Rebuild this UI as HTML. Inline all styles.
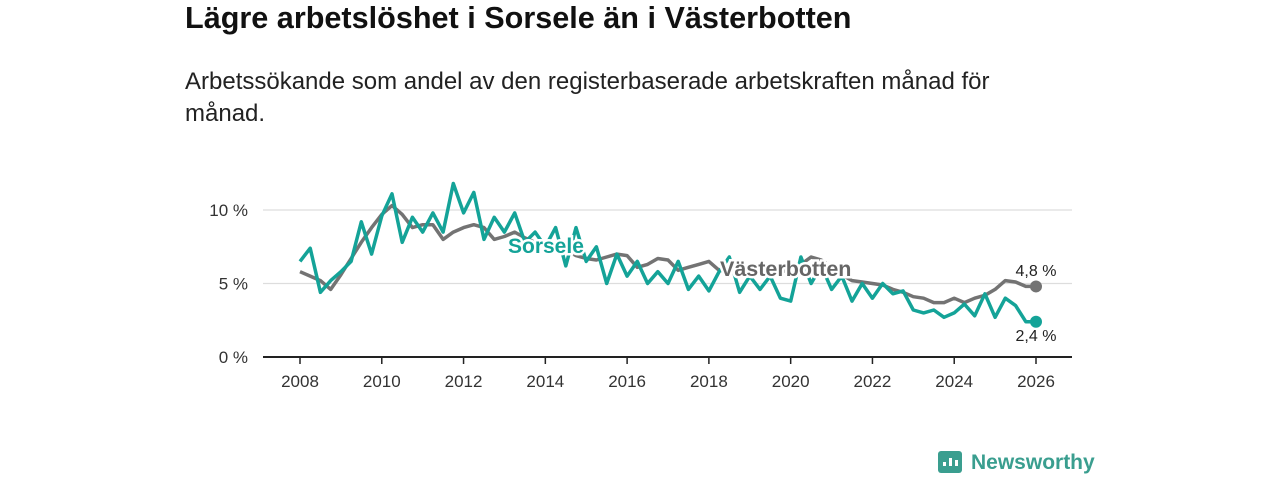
<!DOCTYPE html>
<html><head><meta charset="utf-8"><style>
body{margin:0;width:1280px;height:480px;background:#fff;font-family:"Liberation Sans","DejaVu Sans",sans-serif;overflow:hidden;position:relative}
h1{position:absolute;left:185px;top:1px;margin:0;font-size:30.6px;font-weight:bold;color:#111}
.sub{position:absolute;left:185px;top:66px;font-size:24px;line-height:32px;color:#222;width:900px}
svg{position:absolute;left:0;top:0}
</style></head><body>
<h1>Lägre arbetslöshet i Sorsele än i Västerbotten</h1>
<div class="sub">Arbetssökande som andel av den registerbaserade arbetskraften månad för<br>månad.</div>
<svg id="c" width="1280" height="480"></svg>
<script>
const startYear=2008, step=0.25;
const vasterbotten=[5.8,5.5,5.2,4.6,5.6,6.7,7.8,8.8,9.7,10.3,9.7,8.8,9.0,9.0,8.0,8.5,8.8,9.0,8.8,8.0,8.2,8.5,8.1,7.8,7.6,7.4,7.3,6.9,6.7,6.6,6.8,7.0,6.9,6.1,6.3,6.7,6.6,5.9,6.1,6.3,6.5,5.9,5.8,6.1,6.2,5.6,5.6,5.8,5.9,6.3,6.8,6.6,6.1,5.6,5.2,5.1,5.0,4.9,4.6,4.4,4.1,4.0,3.7,3.7,4.0,3.7,4.0,4.2,4.6,5.2,5.1,4.8,4.8];
const sorsele=[6.5,7.4,4.4,5.2,5.8,6.5,9.2,7.0,9.6,11.1,7.8,9.5,8.5,9.8,8.5,11.8,9.8,11.2,8.0,9.5,8.5,9.8,7.8,8.5,7.5,8.8,6.2,8.8,6.5,7.5,5.0,7.0,5.5,6.5,5.0,5.8,5.0,6.5,4.6,5.5,4.5,5.8,6.8,4.4,5.5,4.6,5.5,4.0,3.8,6.8,5.0,6.2,4.6,5.5,3.8,5.0,4.0,5.0,4.3,4.5,3.2,3.0,3.2,2.7,3.0,3.6,2.8,4.3,2.7,4.0,3.5,2.4,2.4];
const yTicks=[0,5,10];
const xTicks=[2008,2010,2012,2014,2016,2018,2020,2022,2024,2026];
const X=y=>300+(y-2008)*(736/18);
const Y=v=>357-v*14.7;
const svg=document.getElementById('c');
const NS='http://www.w3.org/2000/svg';
function mk(t,a,txt){const e=document.createElementNS(NS,t);for(const k in a)e.setAttribute(k,a[k]);if(txt!=null)e.textContent=txt;svg.appendChild(e);return e;}
yTicks.forEach(v=>{
 const l=mk('line',{x1:263,x2:1072,y1:Y(v),y2:Y(v),stroke:v===0?'#222':'#ddd','stroke-width':v===0?2:1.3});
 
 
 const t=mk('text',{x:248,y:Y(v)+6,'text-anchor':'end','font-size':17,fill:'#333'},v+' %');
 
 
});
xTicks.forEach(yr=>{
 const l=mk('line',{x1:X(yr),x2:X(yr),y1:357,y2:364,stroke:'#222','stroke-width':1.5});
 
 
 const t=mk('text',{x:X(yr),y:387,'text-anchor':'middle','font-size':17,fill:'#333'},yr);
 
 
});
function line(d,col,name){
 const p=d.map((v,i)=>(i?'L':'M')+X(startYear+i*step).toFixed(1)+','+Y(v).toFixed(1)).join('');
 const e=mk('path',{d:p,fill:'none',stroke:col,'stroke-width':3.5,'stroke-linejoin':'round'});
 
 
 const n=d.length-1;
 const c=mk('circle',{cx:X(startYear+n*step),cy:Y(d[n]),r:6,fill:col});
 
 
}
line(vasterbotten,'#737373','vasterbotten-line');
line(sorsele,'#14a398','sorsele-line');
function lab(x,y,txt,col,name,fs){
 const t=mk('text',{x:x,y:y,'font-size':fs,'font-weight':'bold',fill:col,stroke:'#fff','stroke-width':5,'paint-order':'stroke'},txt);
 
 
}
lab(508,253,'Sorsele','#14a398','sorsele-label',21);
lab(720,276,'Västerbotten','#666','vasterbotten-label',21.5);
const n=vasterbotten.length-1;
let t=mk('text',{x:1036,y:276,'text-anchor':'middle','font-size':16,fill:'#222'},vasterbotten[n].toString().replace('.',',')+' %');


t=mk('text',{x:1036,y:341,'text-anchor':'middle','font-size':16,fill:'#222'},sorsele[n].toString().replace('.',',')+' %');


let g=mk('rect',{x:938,y:451,width:24,height:22,rx:3,fill:'#3a9e8f'});


[[943,462,4],[949,458,8],[955,460,6]].forEach(b=>{const r=mk('rect',{x:b[0],y:b[1],width:3,height:b[2],fill:'#fff'});});
t=mk('text',{x:971,y:469,'font-size':21,'font-weight':'bold',fill:'#3a9e8f'},'Newsworthy');


</script>
</body></html>
